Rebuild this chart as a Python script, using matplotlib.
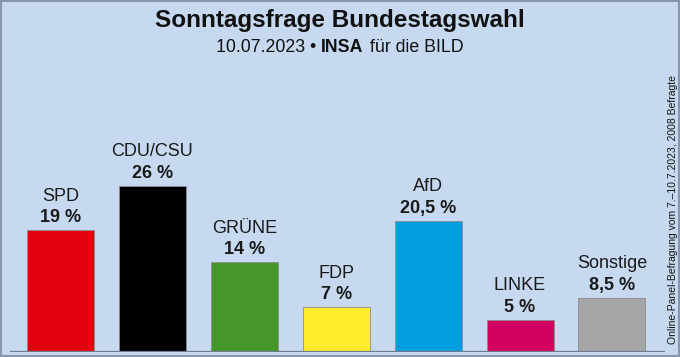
import matplotlib
matplotlib.use("Agg")
import matplotlib.pyplot as plt
from matplotlib.patches import Rectangle

parties = ["SPD", "CDU/CSU", "GRÜNE", "FDP", "AfD", "LINKE", "Sonstige"]
values = [19, 26, 14, 7, 20.5, 5, 8.5]
value_labels = ["19 %", "26 %", "14 %", "7 %", "20,5 %", "5 %", "8,5 %"]
colors = ["#E3000F", "#000000", "#46962B", "#FFED2E", "#009EE0", "#D2005E", "#A6A6A6"]

title = "Sonntagsfrage Bundestagswahl"
subtitle_date = "10.07.2023 • "
subtitle_inst = "INSA"
subtitle_client = " für die BILD"
side_note = "Online-Panel-Befragung vom 7.–10.7.2023, 2008 Befragte"

BG = "#C6D9F0"
FONT = "Liberation Sans"

W, H = 680, 357
fig = plt.figure(figsize=(W / 100, H / 100), dpi=100)
fig.patch.set_facecolor(BG)

# figure border
fig.add_artist(Rectangle((0.5 / W, 1 / H), 1 - 1.5 / W, 1 - 1.5 / H,
                         transform=fig.transFigure, fill=False,
                         edgecolor="#8796AC", linewidth=1.5))

# axes: baseline at y=352px (from top) -> 5px from bottom; 6.4 px per %
ax_left_px, ax_right_px = 10, 665
base_px = 5
px_per_pct = 6.4
ax_h_px = 300
ax = fig.add_axes([ax_left_px / W, base_px / H, (ax_right_px - ax_left_px) / W, ax_h_px / H])
ax.set_facecolor(BG)
ax.patch.set_alpha(0)

spacing = 91.9
x0 = (60.5 - ax_left_px) / spacing
xmin = -x0
xmax = xmin + (ax_right_px - ax_left_px) / spacing
ax.set_xlim(xmin, xmax)
ax.set_ylim(0, ax_h_px / px_per_pct)

xs = list(range(len(parties)))
ax.bar(xs, values, width=67 / spacing, color=colors, edgecolor="#8C8C8C",
       linewidth=0.6, zorder=2)

ax.axhline(0, color="#6F7C8E", linewidth=1.6, zorder=3)

for sp in ax.spines.values():
    sp.set_visible(False)
ax.set_xticks([])
ax.set_yticks([])

pct_per_px = 1 / px_per_pct
for x, v, name, lab in zip(xs, values, parties, value_labels):
    ax.text(x, v + 12.5 * pct_per_px, lab, ha="center", va="center",
            fontsize=13, fontweight="bold", family=FONT, color="#1a1a1a")
    ax.text(x, v + 34 * pct_per_px, name, ha="center", va="center",
            fontsize=13, family=FONT, color="#1a1a1a")

# titles
fig.text(0.5, 1 - 20 / H, title, ha="center", va="center",
         fontsize=17.5, fontweight="bold", family=FONT, color="#111111")

# subtitle composed of three parts
sub_y = 1 - 47 / H
t1 = fig.text(216 / W, sub_y, subtitle_date, ha="left", va="center",
              fontsize=12.8, family=FONT, color="#111111")
fig.canvas.draw()
r = fig.canvas.get_renderer()
bb = t1.get_window_extent(renderer=r)
t2 = fig.text(bb.x1 / W, sub_y, subtitle_inst, ha="left", va="center",
              fontsize=12.8, fontweight="bold", family=FONT, color="#111111")
bb2 = t2.get_window_extent(renderer=r)
fig.text(bb2.x1 / W + 1 / W, sub_y, subtitle_client, ha="left", va="center",
         fontsize=12.8, family=FONT, color="#111111")

fig.text(672.5 / W, 1 - 210 / H, side_note, rotation=90, ha="center", va="center",
         fontsize=7.5, family=FONT, color="#111111")

fig.savefig("out.png", dpi=100, facecolor=BG)
